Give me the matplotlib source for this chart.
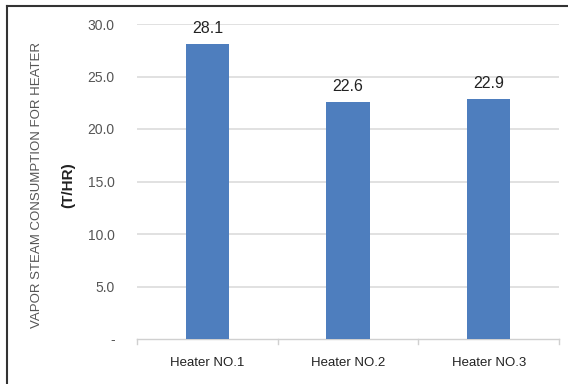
import matplotlib
matplotlib.use("Agg")
import matplotlib.pyplot as plt
from matplotlib.lines import Line2D

categories = ["Heater NO.1", "Heater NO.2", "Heater NO.3"]
values = [28.1, 22.6, 22.9]
yticks = [0, 5, 10, 15, 20, 25, 30]
ytick_labels = ["-", "5.0", "10.0", "15.0", "20.0", "25.0", "30.0"]

plt.rcParams["font.family"] = ["Liberation Sans", "DejaVu Sans"]

fig = plt.figure(figsize=(5.68, 3.84), dpi=100)
ax = fig.add_axes([137 / 568, 45 / 384, 422 / 568, 315 / 384])

bar_color = "#4E7EBE"
x = list(range(len(categories)))
bars = ax.bar(x, values, width=0.31, color=bar_color, zorder=3)

for xi, v in zip(x, values):
    ax.annotate(f"{v:.1f}", (xi, v), xytext=(0, 11), textcoords="offset points",
                ha="center", va="center", fontsize=11.5, color="#222222")

ax.set_xlim(-0.5, len(categories) - 0.5)
ax.set_ylim(0, 30)
ax.set_yticks(yticks)
ax.set_yticklabels(ytick_labels)
ax.set_xticks(x)
ax.set_xticklabels(categories)

for y in yticks[1:]:
    ax.axhline(y, color="#DCDCDC", lw=1.2, zorder=1)

for s in ["top", "right", "left"]:
    ax.spines[s].set_visible(False)
ax.spines["bottom"].set_color("#D0D0D0")
ax.spines["bottom"].set_linewidth(1.0)

ax.tick_params(axis="y", length=0, pad=16, labelsize=10, labelcolor="#555555")
ax.tick_params(axis="x", length=0, pad=13, labelsize=9.5, labelcolor="#222222")

# category boundary tick marks below the baseline
for b in [-0.5, 0.5, 1.5, 2.5]:
    ax.plot([b, b], [0, -0.5], color="#D0D0D0", lw=1.0, clip_on=False, zorder=2)

fig.text(37 / 568, 1 - 185 / 384, "VAPOR STEAM CONSUMPTION FOR HEATER",
         rotation=90, ha="center", va="center", fontsize=9.5, color="#555555")
fig.text(68 / 568, 1 - 185 / 384, "(T/HR)", rotation=90, ha="center",
         va="center", fontsize=11, fontweight="bold", color="#222222")

# outer frame (left and top edges)
fig.add_artist(Line2D([7 / 568, 7 / 568], [0, 1 - 6 / 384], transform=fig.transFigure,
                      color="#333333", lw=1.5))
fig.add_artist(Line2D([7 / 568, 1], [1 - 6 / 384, 1 - 6 / 384], transform=fig.transFigure,
                      color="#333333", lw=1.5))

fig.savefig("out.png", dpi=100)
